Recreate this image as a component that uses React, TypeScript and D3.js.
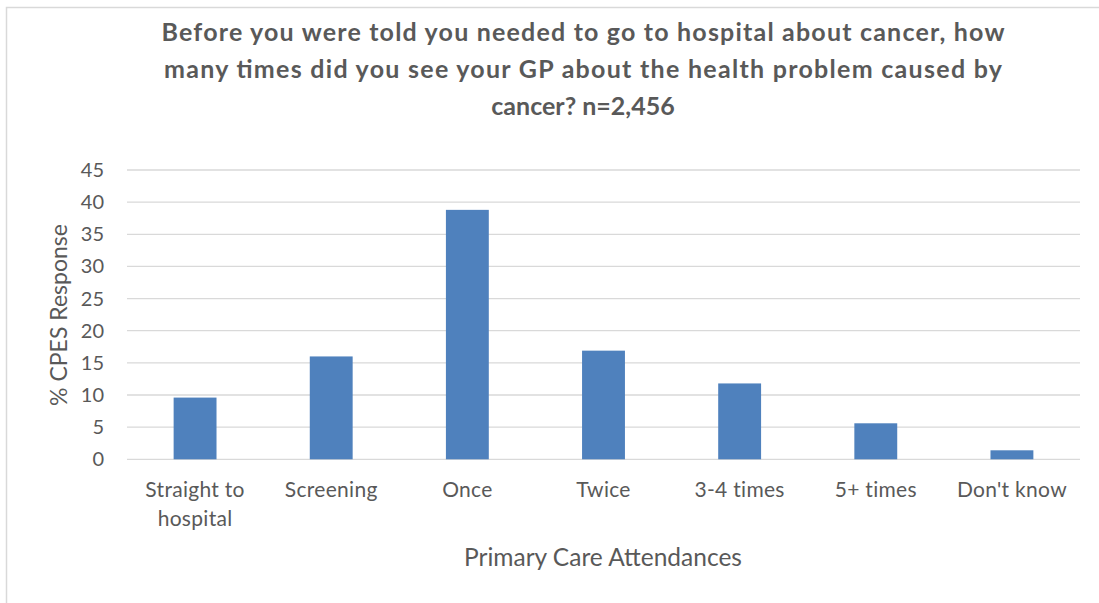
import React, { useEffect, useRef } from "react";
import * as d3 from "d3";

const categories = [
  "Straight to hospital",
  "Screening",
  "Once",
  "Twice",
  "3-4 times",
  "5+ times",
  "Don't know",
];
const values = [9.6, 16.0, 38.8, 16.9, 11.8, 5.6, 1.4];
const yTicks = [0, 5, 10, 15, 20, 25, 30, 35, 40, 45];
const titleLines = [
  "Before you were told you needed to go to hospital about cancer, how",
  "many times did you see your GP about the health problem caused by",
  "cancer? n=2,456",
];
const yTitle = "% CPES Response";
const xTitle = "Primary Care Attendances";

const W = 1099;
const H = 603;
const FONT = "Lato, 'Open Sans', sans-serif";
const TEXT = "#595959";
const GRID = "#d9d9d9";
const BAR = "#4f81bd";

export default function App() {
  const ref = useRef<SVGSVGElement>(null);

  useEffect(() => {
    const svg = d3.select(ref.current);
    svg.selectAll("*").remove();

    const left = 127;
    const right = 1080;
    const top = 170;
    const bottom = 459.3;

    const x = d3.scaleBand<string>().domain(categories).range([left, right]).padding(0);
    const y = d3.scaleLinear().domain([0, 45]).range([bottom, top]);

    // chart frame
    svg
      .append("rect")
      .attr("x", 6.5)
      .attr("y", 7.5)
      .attr("width", 1200)
      .attr("height", 800)
      .attr("fill", "#fff")
      .attr("stroke", GRID)
      .attr("stroke-width", 1.5);

    // title, first two lines spread to the full wrap width
    const title = svg
      .append("g")
      .attr("font-family", FONT)
      .attr("font-weight", 700)
      .attr("font-size", 25)
      .attr("fill", TEXT)
      .attr("text-anchor", "middle");
    const titleWidths = [843, 838, 0];
    titleLines.forEach((line, i) => {
      const t = title
        .append("text")
        .attr("x", 583)
        .attr("y", 41 + i * 37)
        .text(line);
      if (titleWidths[i]) t.attr("textLength", titleWidths[i]).attr("lengthAdjust", "spacing");
    });

    // gridlines
    svg
      .append("g")
      .selectAll("line")
      .data(yTicks)
      .join("line")
      .attr("x1", left)
      .attr("x2", right)
      .attr("y1", (d) => y(d))
      .attr("y2", (d) => y(d))
      .attr("stroke", GRID)
      .attr("stroke-width", 1.3);

    // y tick labels
    svg
      .append("g")
      .attr("font-family", FONT)
      .attr("font-size", 20)
      .attr("fill", TEXT)
      .attr("text-anchor", "end")
      .selectAll("text")
      .data(yTicks)
      .join("text")
      .attr("x", 104)
      .attr("y", (d) => y(d))
      .attr("dy", "0.35em")
      .text((d) => String(d));

    // bars
    const bw = x.bandwidth() * 0.315;
    svg
      .append("g")
      .selectAll("rect")
      .data(values)
      .join("rect")
      .attr("x", (_, i) => (x(categories[i]) as number) + x.bandwidth() / 2 - bw / 2)
      .attr("y", (d) => y(d))
      .attr("width", bw)
      .attr("height", (d) => bottom - y(d))
      .attr("fill", BAR);

    // category labels (wrapped the way they sit under the axis)
    const wrapped: Record<string, string[]> = {
      "Straight to hospital": ["Straight to", "hospital"],
    };
    const cat = svg
      .append("g")
      .attr("font-family", FONT)
      .attr("font-size", 21)
      .attr("letter-spacing", 0.3)
      .attr("fill", TEXT)
      .attr("text-anchor", "middle");
    categories.forEach((c) => {
      const lines = wrapped[c] ?? [c];
      const t = cat.append("text").attr("y", 497);
      lines.forEach((l, j) => {
        t.append("tspan")
          .attr("x", (x(c) as number) + x.bandwidth() / 2)
          .attr("dy", j === 0 ? 0 : 29)
          .text(l);
      });
    });

    // axis titles
    svg
      .append("text")
      .attr("transform", "translate(67,315) rotate(-90)")
      .attr("font-family", FONT)
      .attr("font-size", 23)
      .attr("fill", TEXT)
      .attr("text-anchor", "middle")
      .text(yTitle);

    svg
      .append("text")
      .attr("x", 603)
      .attr("y", 566)
      .attr("font-family", FONT)
      .attr("font-size", 24.5)
      .attr("fill", TEXT)
      .attr("text-anchor", "middle")
      .text(xTitle);
  }, []);

  return (
    <svg
      ref={ref}
      width={W}
      height={H}
      style={{ position: "absolute", left: 0, top: 0, background: "#fff" }}
    />
  );
}
